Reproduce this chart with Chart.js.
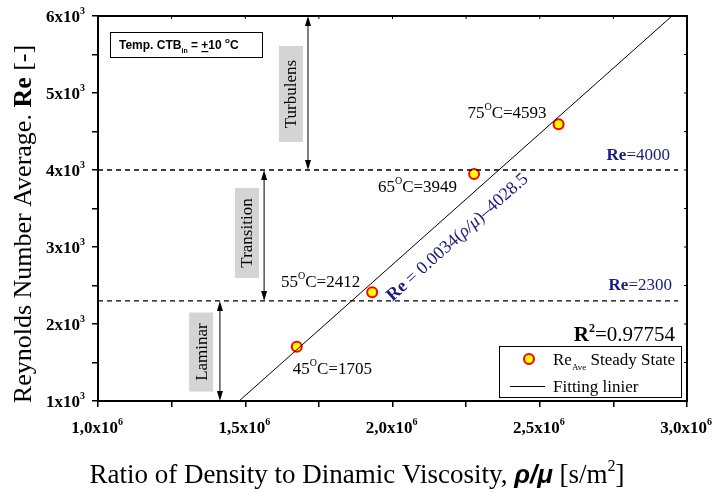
<!DOCTYPE html>
<html lang="en">
<head>
  <meta charset="UTF-8" />
  <title>Re vs rho/mu</title>
  <script src="https://cdn.jsdelivr.net/npm/chart.js"></script>
  <style>
    body { margin: 0; background: #fff; }
    #wrap { width: 716px; height: 493px; }
  </style>
</head>
<body>
  <div id="wrap"><canvas id="reChart"></canvas></div>

  <script>
    // values
    const tempLabels = ['45', '55', '65', '75'];
    const ratioValues = [1.675e6, 1.931e6, 2.277e6, 2.564e6];
    const reValues = [1705, 2412, 3949, 4593];
    const fitX = [1.479e6, 2.949e6];
    const fitY = [1000, 6000];
    const regimeLimits = [2300, 4000];
    const dashEndX = 2.97e6;
    const xTickLabels = ['1,0', '1,5', '2,0', '2,5', '3,0'];
    const yTickLabels = ['1', '2', '3', '4', '5', '6'];

    const SERIF = 'Liberation Serif';
    const SANS = 'Liberation Sans';
    const NAVY = '#1a1a80';

    function rich(ctx, parts, x, y, align) {
      let w = 0;
      parts.forEach(p => { ctx.font = p.f; w += ctx.measureText(p.t).width; });
      let cx = align === 'right' ? x - w : align === 'center' ? x - w / 2 : x;
      ctx.textAlign = 'left';
      ctx.textBaseline = 'alphabetic';
      parts.forEach(p => {
        ctx.font = p.f;
        ctx.fillStyle = p.c || '#000';
        ctx.fillText(p.t, cx, y + (p.dy || 0));
        cx += ctx.measureText(p.t).width;
      });
      return w;
    }

    function vArrow(ctx, x, yTop, yBot) {
      ctx.save();
      ctx.strokeStyle = '#000';
      ctx.fillStyle = '#000';
      ctx.lineWidth = 1;
      ctx.beginPath();
      ctx.moveTo(x, yTop + 6);
      ctx.lineTo(x, yBot - 6);
      ctx.stroke();
      ctx.beginPath();
      ctx.moveTo(x, yTop); ctx.lineTo(x - 3, yTop + 10); ctx.lineTo(x + 3, yTop + 10); ctx.closePath();
      ctx.fill();
      ctx.beginPath();
      ctx.moveTo(x, yBot); ctx.lineTo(x - 3, yBot - 10); ctx.lineTo(x + 3, yBot - 10); ctx.closePath();
      ctx.fill();
      ctx.restore();
    }

    function regimeBox(ctx, cx, cy, h, text) {
      ctx.save();
      ctx.fillStyle = '#d4d4d4';
      ctx.fillRect(cx - 12, cy - h / 2, 24, h);
      ctx.translate(cx, cy);
      ctx.rotate(-Math.PI / 2);
      ctx.font = '17px ' + SERIF;
      ctx.fillStyle = '#000';
      ctx.textAlign = 'center';
      ctx.textBaseline = 'middle';
      ctx.fillText(text, 0, 1);
      ctx.restore();
    }

    const decor = {
      id: 'decor',
      afterDraw(chart) {
        const ctx = chart.ctx;
        const a = chart.chartArea;
        const xs = chart.scales.x, ys = chart.scales.y;
        const px = v => xs.getPixelForValue(v);
        const py = v => ys.getPixelForValue(v);

        ctx.save();
        // frame
        ctx.strokeStyle = '#000';
        ctx.lineWidth = 2;
        ctx.strokeRect(a.left, a.top, a.right - a.left, a.bottom - a.top);
        // inner ticks on top and right
        ctx.lineWidth = 1;
        ctx.beginPath();
        xs.ticks.forEach(t => { const x = px(t.value); ctx.moveTo(x, a.top); ctx.lineTo(x, a.top + 3); });
        ys.ticks.forEach(t => { const y = py(t.value); ctx.moveTo(a.right, y); ctx.lineTo(a.right - 3, y); });
        ctx.stroke();

        // tick labels
        let i = 0;
        ys.ticks.forEach(t => {
          if (t.value % 1000 !== 0) return;
          rich(ctx, [
            { t: yTickLabels[i++] + 'x10', f: 'bold 17px ' + SERIF },
            { t: '3', f: 'bold 10px ' + SERIF, dy: -8 }
          ], a.left - 13, py(t.value) + 6, 'right');
        });
        i = 0;
        xs.ticks.forEach(t => {
          if (Math.round(t.value) % 500000 !== 0) return;
          rich(ctx, [
            { t: xTickLabels[i++] + 'x10', f: 'bold 17px ' + SERIF },
            { t: '6', f: 'bold 10px ' + SERIF, dy: -8 }
          ], px(t.value) - 1, a.bottom + 32, 'center');
        });

        // axis titles
        rich(ctx, [
          { t: 'Ratio of Density to Dinamic Viscosity, ', f: '27px ' + SERIF },
          { t: 'ρ/μ', f: 'italic bold 26px ' + SANS },
          { t: ' [s/m', f: '27px ' + SERIF },
          { t: '2', f: '16px ' + SERIF, dy: -12 },
          { t: ']', f: '27px ' + SERIF }
        ], 357, 483, 'center');

        ctx.save();
        ctx.translate(31, 224);
        ctx.rotate(-Math.PI / 2);
        rich(ctx, [
          { t: 'Reynolds Number Average. ', f: '26px ' + SERIF },
          { t: 'Re', f: 'bold 26px ' + SERIF },
          { t: ' [-]', f: '26px ' + SERIF }
        ], 0, 0, 'center');
        ctx.restore();

        // temperature box
        const bx = a.left + 12, by = a.top + 16;
        ctx.fillStyle = '#fff';
        ctx.fillRect(bx, by, 152, 25);
        ctx.strokeStyle = '#000';
        ctx.lineWidth = 1;
        ctx.strokeRect(bx + 0.5, by + 0.5, 152, 25);
        const w1 = rich(ctx, [
          { t: 'Temp. CTB', f: 'bold 12px ' + SANS },
          { t: 'in', f: 'bold 7px ' + SANS, dy: 4 },
          { t: ' = ', f: 'bold 12px ' + SANS }
        ], bx + 9, by + 17, 'left');
        ctx.font = 'bold 12px ' + SANS;
        const plusW = ctx.measureText('+').width;
        rich(ctx, [
          { t: '+10 ', f: 'bold 12px ' + SANS },
          { t: 'o', f: 'bold 8px ' + SANS, dy: -6 },
          { t: 'C', f: 'bold 12px ' + SANS }
        ], bx + 9 + w1, by + 17, 'left');
        ctx.fillStyle = '#000';
        ctx.fillRect(bx + 9 + w1, by + 19, plusW, 1.2);

        // regime boxes and arrows
        regimeBox(ctx, px(1.350e6), py(1636), 79, 'Laminar');
        regimeBox(ctx, px(1.506e6), py(3182), 90, 'Transition');
        regimeBox(ctx, px(1.655e6), py(4987), 96, 'Turbulens');
        vArrow(ctx, px(1.414e6), py(regimeLimits[0]), py(1000));
        vArrow(ctx, px(1.564e6), py(regimeLimits[1]), py(regimeLimits[0]));
        vArrow(ctx, px(1.713e6), py(6000), py(regimeLimits[1]));

        // regime limit labels
        rich(ctx, [
          { t: 'Re', f: 'bold 17px ' + SERIF, c: NAVY },
          { t: '=' + regimeLimits[1], f: '17px ' + SERIF, c: NAVY }
        ], a.right - 17, py(regimeLimits[1]) - 10, 'right');
        rich(ctx, [
          { t: 'Re', f: 'bold 17px ' + SERIF, c: NAVY },
          { t: '=' + regimeLimits[0], f: '17px ' + SERIF, c: NAVY }
        ], a.right - 15, py(regimeLimits[0]) - 11, 'right');

        // point labels
        const offs = [[-4, 27, 'left'], [-12, -5, 'right'], [-17, 18, 'right'], [-12, -6, 'right']];
        tempLabels.forEach((tl, k) => {
          const o = offs[k];
          rich(ctx, [
            { t: tl, f: '17px ' + SERIF },
            { t: 'O', f: '10px ' + SERIF, dy: -8 },
            { t: 'C=' + reValues[k], f: '17px ' + SERIF }
          ], px(ratioValues[k]) + o[0], py(reValues[k]) + o[1], o[2]);
        });

        // fit equation along the line
        const ang = Math.atan2(py(fitY[1]) - py(fitY[0]), px(fitX[1]) - px(fitX[0]));
        ctx.save();
        ctx.translate(px(2.0e6), py(2290));
        ctx.rotate(ang);
        rich(ctx, [
          { t: 'Re', f: 'bold 18px ' + SERIF, c: NAVY },
          { t: ' = 0.0034(', f: '18px ' + SERIF, c: NAVY },
          { t: 'ρ/μ', f: 'italic 18px ' + SERIF, c: NAVY },
          { t: ')–4028.5', f: '18px ' + SERIF, c: NAVY }
        ], 0, 0, 'left');
        ctx.restore();

        // R squared
        rich(ctx, [
          { t: 'R', f: 'bold 21px ' + SERIF },
          { t: '2', f: 'bold 12px ' + SERIF, dy: -9 },
          { t: '=0.97754', f: '21px ' + SERIF }
        ], a.right - 12, 341, 'right');

        // legend box
        const lx = a.right - 188, ly = a.bottom - 55;
        ctx.fillStyle = '#fff';
        ctx.fillRect(lx, ly, 182, 51);
        ctx.strokeStyle = '#000';
        ctx.lineWidth = 1;
        ctx.strokeRect(lx + 0.5, ly + 0.5, 182, 51);
        ctx.beginPath();
        ctx.arc(lx + 30, ly + 13, 5, 0, Math.PI * 2);
        ctx.fillStyle = '#ffff00';
        ctx.fill();
        ctx.strokeStyle = '#ff0000';
        ctx.lineWidth = 2;
        ctx.stroke();
        ctx.strokeStyle = '#000';
        ctx.lineWidth = 1;
        ctx.beginPath();
        ctx.moveTo(lx + 11, ly + 40.5);
        ctx.lineTo(lx + 46, ly + 40.5);
        ctx.stroke();
        rich(ctx, [
          { t: 'Re', f: '17px ' + SERIF },
          { t: 'Ave', f: '9px ' + SERIF, dy: 5 },
          { t: ' Steady State', f: '17px ' + SERIF }
        ], lx + 54, ly + 19, 'left');
        rich(ctx, [{ t: 'Fitting linier', f: '17px ' + SERIF }], lx + 54, ly + 46, 'left');
        ctx.restore();
      }
    };

    const dashStyle = {
      type: 'line', borderColor: '#000', borderWidth: 1.3, borderDash: [5, 4],
      pointRadius: 0, fill: false
    };

    new Chart(document.getElementById('reChart'), {
      type: 'scatter',
      data: {
        datasets: [
          Object.assign({ label: 'Re 4000', data: [{ x: 1.0e6, y: regimeLimits[1] }, { x: dashEndX, y: regimeLimits[1] }] }, dashStyle),
          Object.assign({ label: 'Re 2300', data: [{ x: 1.0e6, y: regimeLimits[0] }, { x: dashEndX, y: regimeLimits[0] }] }, dashStyle),
          {
            type: 'line',
            label: 'Fitting linier',
            data: fitX.map((x, k) => ({ x, y: fitY[k] })),
            borderColor: '#000',
            borderWidth: 1,
            pointRadius: 0,
            fill: false
          },
          {
            label: 'ReAve Steady State',
            data: ratioValues.map((x, k) => ({ x, y: reValues[k] })),
            backgroundColor: '#ffff00',
            borderColor: '#ff0000',
            borderWidth: 2,
            pointRadius: 5
          }
        ]
      },
      options: {
        responsive: true,
        maintainAspectRatio: false,
        animation: false,
        layout: { padding: { left: 0, top: 16, right: 29, bottom: 0 } },
        plugins: { legend: { display: false }, tooltip: { enabled: false } },
        scales: {
          x: {
            type: 'linear', min: 1.0e6, max: 3.0e6,
            ticks: { stepSize: 250000, display: false },
            grid: { drawOnChartArea: false, drawTicks: true, tickLength: 6, color: '#000', lineWidth: 1.5 },
            border: { color: '#000', width: 2 },
            afterFit: s => { s.height = 92; }
          },
          y: {
            min: 1000, max: 6000,
            ticks: { stepSize: 500, display: false },
            grid: { drawOnChartArea: false, drawTicks: true, tickLength: 6, color: '#000', lineWidth: 1.5 },
            border: { color: '#000', width: 2 },
            afterFit: s => { s.width = 98; }
          }
        }
      },
      plugins: [decor]
    });
  </script>
</body>
</html>
